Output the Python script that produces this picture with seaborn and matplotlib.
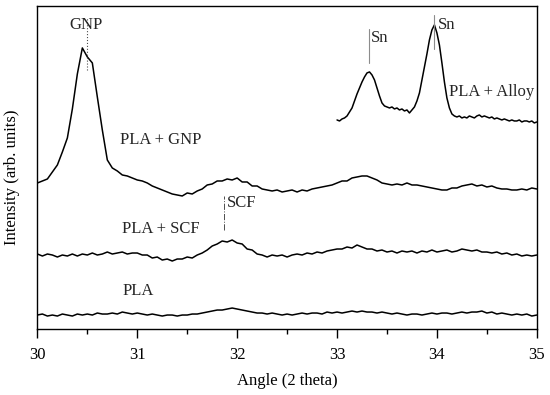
import numpy as np
import pandas as pd
import matplotlib
matplotlib.use("Agg")
import matplotlib.pyplot as plt
from matplotlib.ticker import MultipleLocator
import seaborn as sns

# scan grid (2 theta), 0.05 deg step for the full scans, 0.025 for the alloy scan
angle = np.linspace(30, 35, 101)
angle_alloy = np.linspace(33, 35, 81)

# intensities (arb. units, already offset for stacking)
pla = [14, 15, 13, 14, 13, 15, 14, 13, 15, 14, 15, 14, 16, 15, 15, 16, 15, 17, 16, 15,
       16, 15, 14, 15, 14, 13, 14, 14, 13, 14, 14, 15, 15, 16, 17, 18, 19, 19, 20, 21,
       20, 19, 18, 17, 16, 16, 15, 16, 15, 14, 15, 14, 15, 16, 15, 16, 16, 15, 17, 16,
       17, 16, 17, 18, 17, 18, 17, 17, 16, 17, 16, 15, 16, 15, 14, 15, 15, 14, 15, 16,
       15, 16, 16, 15, 16, 17, 16, 17, 17, 18, 16, 17, 15, 16, 15, 14, 15, 14, 15, 13, 14]

pla_scf = [75, 73, 75, 74, 72, 74, 73, 75, 73, 75, 74, 76, 74, 75, 77, 75, 76, 77, 75, 76,
           76, 74, 74, 71, 72, 69, 70, 68, 70, 70, 72, 71, 74, 76, 79, 83, 85, 88, 87, 89,
           86, 85, 80, 79, 75, 74, 72, 74, 73, 74, 72, 74, 75, 74, 76, 75, 77, 76, 78, 79,
           80, 80, 82, 81, 84, 82, 80, 80, 78, 79, 77, 78, 76, 78, 77, 78, 76, 78, 77, 79,
           77, 78, 79, 77, 78, 80, 79, 78, 79, 77, 77, 76, 77, 75, 76, 74, 75, 73, 74, 73, 74]

pla_gnp = [146, 148, 150, 157, 164, 177, 191, 220, 255, 281, 272, 266, 232, 199, 169, 161, 158, 154, 153, 151,
           149, 148, 146, 143, 141, 139, 137, 135, 134, 133, 136, 135, 138, 140, 144, 145, 148, 148, 150, 149,
           151, 147, 147, 143, 143, 140, 139, 138, 139, 137, 138, 139, 137, 139, 138, 140, 141, 142, 143, 144,
           146, 148, 148, 151, 152, 153, 153, 151, 149, 146, 145, 144, 145, 144, 146, 144, 144, 143, 142, 141,
           140, 139, 139, 141, 141, 143, 144, 145, 143, 144, 142, 143, 141, 140, 140, 139, 139, 140, 139, 141, 140]

pla_alloy = [209, 208, 210, 211, 213, 217, 221, 228, 235, 241,
             247, 252, 256, 257, 254, 249, 241, 233, 226, 223,
             222, 221, 222, 220, 221, 219, 220, 218, 219, 216,
             219, 222, 228, 236, 249, 262, 275, 289, 299, 304,
             296, 284, 266, 247, 231, 221, 215, 213, 212, 213,
             211, 212, 211, 213, 212, 211, 213, 214, 212, 213,
             212, 211, 212, 210, 211, 210, 209, 210, 209, 208,
             209, 208, 208, 209, 207, 208, 208, 207, 208, 206, 207]

sns.set_style("ticks")
plt.rcParams['font.family'] = ['Liberation Serif', 'DejaVu Serif']

fig, ax = plt.subplots(figsize=(5.5, 3.95), dpi=100)
fig.subplots_adjust(left=0.068, right=0.976, bottom=0.167, top=0.985)

scans = pd.DataFrame({"angle": angle, "PLA": pla, "PLA + SCF": pla_scf, "PLA + GNP": pla_gnp})
for name in ["PLA", "PLA + SCF", "PLA + GNP"]:
    sns.lineplot(data=scans, x="angle", y=name, ax=ax, color="black", lw=1.1)
sns.lineplot(x=angle_alloy, y=pla_alloy, ax=ax, color="black", lw=1.1)

# peak markers
ax.plot([30.5, 30.5], [259, 312], ls=":", color="0.3", lw=0.8)
ax.plot([31.87, 31.87], [99, 133], ls="-.", color="0.3", lw=0.7)
ax.plot([33.318, 33.318], [266, 300], color="0.55", lw=0.8)
ax.plot([33.975, 33.975], [280, 314], color="0.55", lw=0.8)

ax.text(30.49, 304, "GNP", ha="center", va="center", fontsize=12)
ax.text(31.90, 126, "SCF", ha="left", va="center", fontsize=12)
ax.text(33.34, 291, "Sn", ha="left", va="center", fontsize=12)
ax.text(34.008, 304, "Sn", ha="left", va="center", fontsize=12)

ax.text(30.825, 189, "PLA + GNP", ha="left", va="center", fontsize=12)
ax.text(30.85, 100, "PLA + SCF", ha="left", va="center", fontsize=12)
ax.text(30.85, 38, "PLA", ha="left", va="center", fontsize=12)
ax.text(34.12, 237, "PLA + Alloy", ha="left", va="center", fontsize=12)

ax.set_xlim(30, 35)
ax.set_ylim(0, 323)
ax.set_yticks([])
ax.xaxis.set_major_locator(MultipleLocator(1))
ax.xaxis.set_minor_locator(MultipleLocator(0.5))
ax.tick_params(axis="x", which="major", direction="out", length=6.5, width=1,
               labelsize=12, pad=6.5, color="black", labelcolor="black")
ax.tick_params(axis="x", which="minor", direction="out", length=3.5, width=1, color="black")
for s in ax.spines.values():
    s.set_visible(True)
    s.set_linewidth(1)
    s.set_color("black")

ax.set_xlabel("Angle (2 theta)", fontsize=12, color="black", labelpad=7)
ax.set_ylabel("Intensity (arb. units)", fontsize=12, color="black")
ax.yaxis.set_label_coords(-0.035, 0.47)

plt.savefig("out.png", dpi=100)
